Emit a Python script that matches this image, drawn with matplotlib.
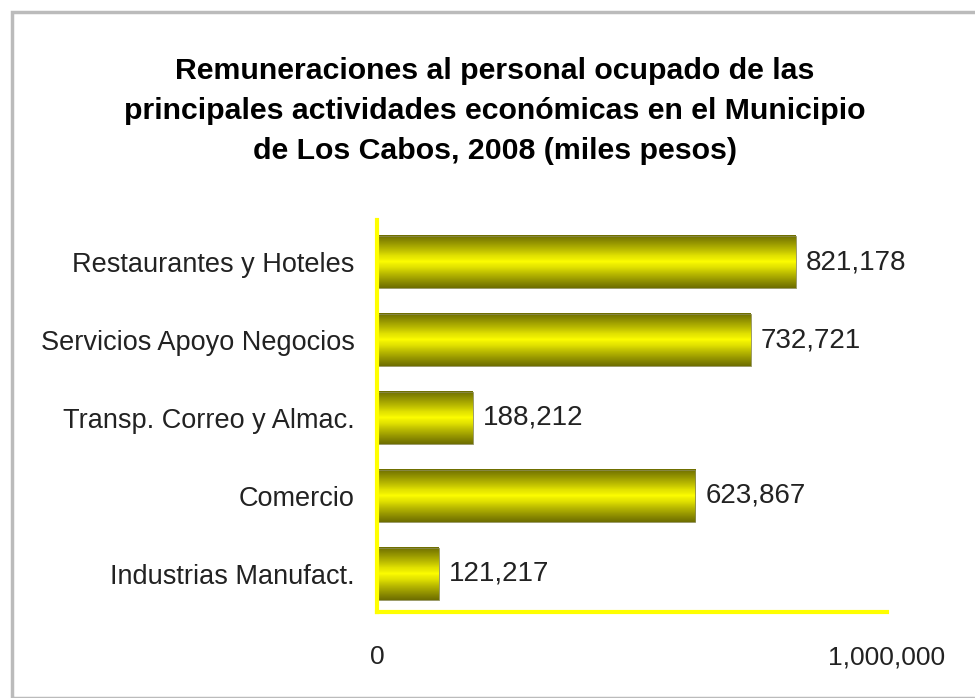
import matplotlib
matplotlib.use('Agg')
import matplotlib.pyplot as plt
import numpy as np
from matplotlib.patches import Rectangle
from matplotlib.ticker import FuncFormatter

plt.rcParams['font.family'] = ['Liberation Sans', 'DejaVu Sans']

categorias = ['Industrias Manufact.', 'Comercio', 'Transp. Correo y Almac.',
              'Servicios Apoyo Negocios', 'Restaurantes y Hoteles']
valores = [121217, 623867, 188212, 732721, 821178]
titulo = ('Remuneraciones al personal ocupado de las\n'
          'principales actividades económicas en el Municipio\n'
          'de Los Cabos, 2008 (miles pesos)')

fig = plt.figure(figsize=(9.75, 6.98), dpi=100)
ax = fig.add_axes([377 / 975, 1 - 612 / 698, 510 / 975, 392 / 698])

# marco con sombra
fig.patches.append(Rectangle((12 / 975, 0), 1, 1 - 12 / 698, transform=fig.transFigure,
                             facecolor='none', edgecolor='#bbbbbb', lw=2.5, zorder=0))

altura = 0.67
grad = (np.abs(np.linspace(-1, 1, 128)) ** 0.75).reshape(-1, 1)
cmap = matplotlib.colors.LinearSegmentedColormap.from_list(
    'oro', ['#ffff00', '#e0e000', '#a8a800', '#6e6e00'])
bars = ax.barh(range(len(categorias)), valores, height=altura, color='none',
               edgecolor='#8a8a50', lw=0.6, zorder=3)
for b in bars:
    x0, y0 = b.get_x(), b.get_y()
    w, h = b.get_width(), b.get_height()
    ax.imshow(grad, cmap=cmap, aspect='auto', extent=(x0, x0 + w, y0, y0 + h),
              zorder=2, interpolation='bilinear', vmin=0, vmax=1)
    ax.text(x0 + w + 20000, y0 + h / 2, f'{int(w):,}', va='center', ha='left',
            fontsize=20, color='#222222')

ax.set_xlim(0, 1000000)
ax.set_ylim(-0.49, 4.54)
ax.set_yticks(range(len(categorias)))
ax.set_yticklabels(categorias, fontsize=19.5, color='#222222')
ax.set_xticks([0, 1000000])
ax.xaxis.set_major_formatter(FuncFormatter(lambda v, p: f'{int(v):,}'))
ax.tick_params(axis='x', length=0, pad=24, labelsize=19, labelcolor='#222222')
ax.tick_params(axis='y', length=0, pad=16)
for s in ['top', 'right']:
    ax.spines[s].set_visible(False)
for s in ['left', 'bottom']:
    ax.spines[s].set_color('#ffff00')
    ax.spines[s].set_linewidth(3)
    ax.spines[s].set_zorder(4)

fig.text(495 / 975, 1 - 111 / 698, titulo, ha='center', va='center',
         fontsize=21.8, fontweight='bold', linespacing=1.56)

fig.savefig('out.png', dpi=100)
